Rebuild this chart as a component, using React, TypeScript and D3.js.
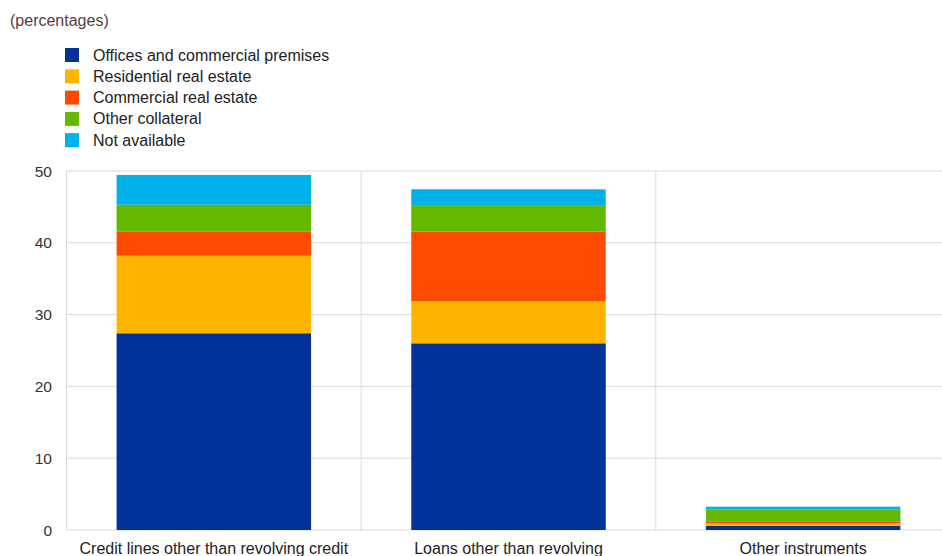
import React from "react";
import * as d3 from "d3";

const categories = [
  "Credit lines other than revolving credit",
  "Loans other than revolving",
  "Other instruments",
];
const seriesNames = [
  "Offices and commercial premises",
  "Residential real estate",
  "Commercial real estate",
  "Other collateral",
  "Not available",
];
const offices = [27.4, 26.0, 0.6];
const residential = [10.8, 5.85, 0.33];
const commercial = [3.4, 9.7, 0.28];
const otherCollateral = [3.7, 3.6, 1.62];
const notAvailable = [4.15, 2.3, 0.42];
const yTicks = [0, 10, 20, 30, 40, 50];

const colors = ["#003299", "#FFB400", "#FF4B00", "#65B800", "#00B1EA"];

const W = 942;
const H = 556;
const x0 = 66.5;
const x1 = x0 + 884;
const yTop = 171;
const yBot = 530;
const font = "'Liberation Sans', Arial, sans-serif";

export default function App() {
  const series = [offices, residential, commercial, otherCollateral, notAvailable];
  const rows = categories.map((c, i) => {
    const r: any = { cat: c };
    seriesNames.forEach((s, j) => (r[s] = series[j][i]));
    return r;
  });
  const stacked = d3.stack<any>().keys(seriesNames)(rows);
  const x = d3
    .scaleBand<string>()
    .domain(categories)
    .range([x0, x1])
    .paddingInner(0.34)
    .paddingOuter(0.17);
  const step = x.step();
  const y = d3.scaleLinear().domain([0, 50]).range([yBot, yTop]);

  return (
    <svg
      width={W}
      height={H}
      style={{ position: "absolute", left: 0, top: 0, background: "#fff" }}
      fontFamily={font}
    >
      <text x={10} y={26} fontSize={16} fill="#5a3c3c">
        (percentages)
      </text>
      {seriesNames.map((s, i) => (
        <g key={s}>
          <rect x={65} y={48} width={14} height={14} fill={colors[i]} transform={`translate(0,${i * 21.3})`} />
          <text x={93} y={60.5 + i * 21.3} fontSize={16} fill="#222">
            {s}
          </text>
        </g>
      ))}
      {yTicks.map((t) => (
        <g key={t}>
          <line x1={x0} x2={x1} y1={y(t)} y2={y(t)} stroke="#d9d9d9" strokeWidth={1} />
          <text x={52} y={y(t) + 5.5} fontSize={15.5} fill="#333" textAnchor="end">
            {t}
          </text>
        </g>
      ))}
      {[0, 1, 2, 3].map((i) => (
        <line
          key={i}
          x1={x0 + i * step}
          x2={x0 + i * step}
          y1={yTop}
          y2={yBot}
          stroke="#d9d9d9"
          strokeWidth={1}
        />
      ))}
      {stacked.map((layer, j) => (
        <g key={layer.key} fill={colors[j]}>
          {layer.map((d, i) => (
            <rect
              key={i}
              x={x(categories[i])}
              width={x.bandwidth()}
              y={y(d[1])}
              height={y(d[0]) - y(d[1])}
            />
          ))}
        </g>
      ))}
      {categories.map((c) => (
        <text
          key={c}
          x={(x(c) as number) + x.bandwidth() / 2}
          y={554}
          fontSize={16}
          fill="#222"
          textAnchor="middle"
        >
          {c}
        </text>
      ))}
    </svg>
  );
}
